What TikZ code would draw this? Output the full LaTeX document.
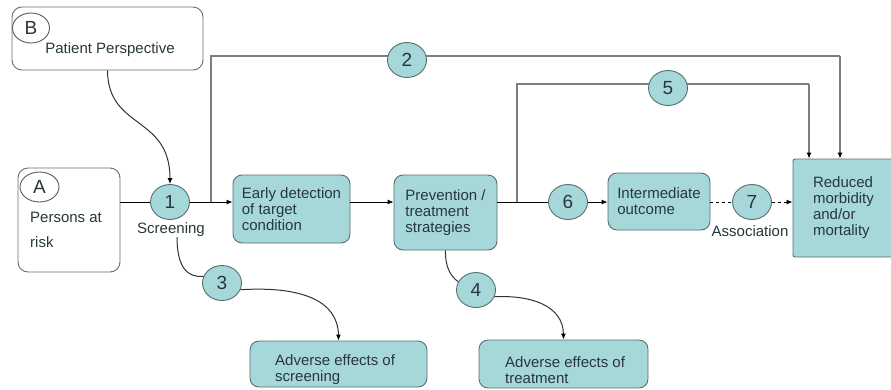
\documentclass[tikz,border=0pt]{standalone}
\usepackage{fontspec}
\setmainfont{Liberation Sans}
\usetikzlibrary{arrows.meta,shapes.geometric,backgrounds}
\definecolor{teal1}{RGB}{166,216,218}
\definecolor{tborder}{RGB}{88,110,112}
\definecolor{txt}{RGB}{40,55,58}
\definecolor{gline}{RGB}{125,125,125}
\definecolor{curvecol}{RGB}{50,50,50}
\begin{document}
\begin{tikzpicture}[x=1pt,y=-1pt,
  tbox/.style={draw=tborder, fill=teal1, rounded corners=9pt, line width=0.9pt, text=txt, align=left, font=\fontsize{15}{16}\selectfont, inner sep=0pt},
  wbox/.style={draw=gray!85!black, fill=white, rounded corners=10pt, line width=0.9pt},
  num/.style={ellipse, draw=tborder, fill=teal1, line width=0.9pt, minimum width=39pt, minimum height=35pt, inner sep=0pt, font=\fontsize{19}{19}\selectfont, text=txt},
  letter/.style={ellipse, draw=gray!70!black, fill=white, line width=0.9pt, minimum width=38pt, minimum height=30pt, inner sep=0pt, font=\fontsize{19}{19}\selectfont, text=txt},
  lbl/.style={text=txt, font=\fontsize{15}{16}\selectfont, inner sep=0pt},
  arr/.style={-{Latex[length=6pt,width=5pt,color=black]}},
  flow/.style={line width=0.9pt, draw=black},
  gl/.style={line width=1.1pt, draw=gline},
  crv/.style={line width=1pt, draw=curvecol}
]
\useasboundingbox (0,0) rectangle (891,389);

% boxes
\node[wbox, minimum width=191pt, minimum height=63pt] (B) at (107.5,38.5) {};
\node[letter, minimum width=37pt] (Bl) at (31,28) {B};
\node[lbl] (Bt) at (110,50) {Patient Perspective};

\node[wbox, minimum width=102pt, minimum height=104pt] (A) at (69,220) {};
\node[letter, minimum width=39pt] (Al) at (39.5,187) {A};
\node[lbl, anchor=west, align=left, font=\fontsize{15}{25}\selectfont] (At) at (30,230) {Persons at\\risk};

\node[num] (c1) at (170,202) {1};
\node[lbl] (scr) at (171,230) {Screening};
\node[tbox, minimum width=117pt, minimum height=68pt] (early) at (291.5,209) {Early detection\\of target\\condition};
\node[tbox, minimum width=103pt, minimum height=75pt] (prev) at (445.5,212.5) {Prevention /\\treatment\\strategies};
\node[num] (c6) at (568,202) {6};
\node[tbox, minimum width=102pt, minimum height=57pt] (inter) at (659,201.5) {Intermediate\\outcome};
\node[num] (c7) at (752,202) {7};
\node[lbl] (assoc) at (750,231) {Association};
\node[tbox, rounded corners=2pt, minimum width=104pt, minimum height=98pt, text width=64pt] (red) at (845,208) {Reduced\\morbidity\\and/or\\mortality};
\node[num] (c2) at (407,60) {2};
\node[num] (c5) at (668,88) {5};
\node[num] (c3) at (222,283) {3};
\node[num] (c4) at (476,290) {4};
\node[tbox, minimum width=177pt, minimum height=46pt] (ads) at (338.5,364) {};
\node[lbl, anchor=west, align=left] (adsT) at (275,370) {Adverse effects of\\screening};
\node[tbox, minimum width=169pt, minimum height=48pt] (adt) at (563.5,364) {};
\node[lbl, anchor=west, align=left] (adtT) at (505,370.5) {Adverse effects of\\treatment};

\coordinate (j2) at (211,202);
\coordinate (k2) at (840,56);
\coordinate (j5) at (517,202);
\coordinate (k5) at (809,84);

\begin{scope}[on background layer]
  \draw[gl] (j2) |- (k2);
  \draw[gl] (j5) |- (k5);
\end{scope}
\draw[gl, arr] (k2) -- (k2 |- red.north);
\draw[gl, arr] (k5) -- (k5 |- red.north);

% main flow
\draw[flow] (A.east |- c1) -- (c1);
\draw[flow, arr] (c1) -- (early.west |- c1);
\draw[flow, arr] (early.east |- c1) -- (prev.west |- c1);
\draw[flow] (prev.east |- c6) -- (c6);
\draw[flow, arr] (c6) -- (inter.west |- c6);
\draw[flow, dashed] (inter.east |- c7) -- (c7);
\draw[flow, dashed, arr] (c7) -- (red.west |- c7);

% curves
\draw[crv, arr] (B.south) .. controls (108,130) and (170,115) .. (c1.north);
\draw[crv] ([xshift=6pt]scr.south) .. controls (177,268) and (188,278) .. (c3.160);
\draw[crv, arr] (c3.-20) .. controls (300,286) and (338,300) .. (ads.north);
\draw[crv] (prev.south) .. controls (445,266) and (450,276) .. (c4.155);
\draw[crv, arr] (c4.-20) .. controls (530,295) and (563,305) .. (adt.north);
\end{tikzpicture}
\end{document}
